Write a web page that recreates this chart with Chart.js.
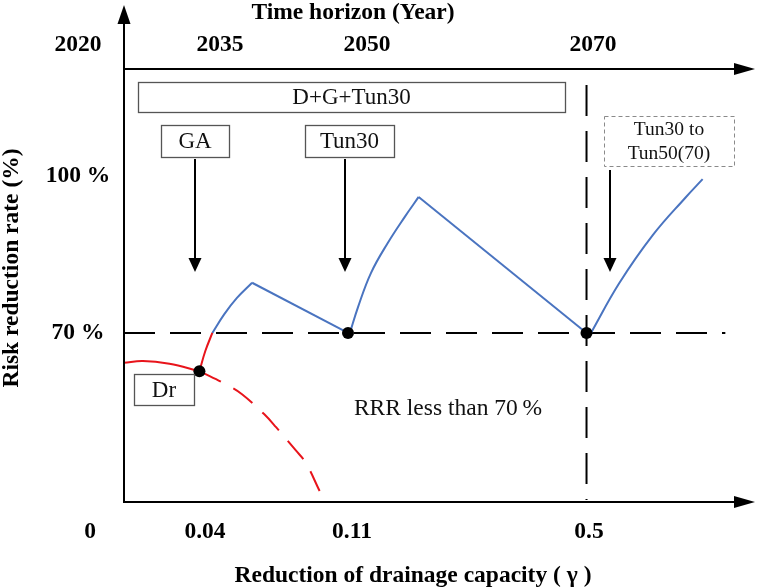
<!DOCTYPE html>
<html>
<head>
<meta charset="utf-8">
<script src="https://cdn.jsdelivr.net/npm/chart.js@4"></script>
<style>
html,body{margin:0;padding:0;background:#fff;overflow:hidden;}
#wrap{position:relative;width:761px;height:588px;}
</style>
</head>
<body>
<div id="wrap"><canvas id="c"></canvas></div>
<script>
// ---- data (schematic units: x = position along γ axis 0..100, y = risk reduction rate %) ----
const gammaLabels = ['0', '0.04', '0.11', '0.5'];
const yearLabels = ['2020', '2035', '2050', '2070'];
const rateLabels = ['100 %', '70 %'];
const rateTickValues = [100, 70];
const threshold = 70;

const redBaseX = [0, 3.0, 7.2, 11.95];
const redBaseY = [64.3, 64.65, 64.1, 62.7];
const redDashX = [11.95, 16.35, 18.7, 22.2, 24.1, 27.2, 28.8, 31.0];
const redDashY = [62.7, 60.06, 58.3, 54.5, 52.0, 47.6, 45.2, 39.8];
const redRiseX = [11.95, 12.9, 14.0];
const redRiseY = [62.7, 66.6, 70];

const blueRise1X = [14.0, 15.9, 17.9, 20.3];
const blueRise1Y = [70, 73.6, 76.7, 79.6];
const blueFall1X = [20.3, 35.5];
const blueFall1Y = [79.6, 70];
const blueRise2X = [35.8, 37.1, 39.15, 41.8, 44.5, 46.7];
const blueRise2Y = [70, 75.0, 81.5, 87.2, 92.2, 96.0];
const blueFall2X = [46.7, 73.3];
const blueFall2Y = [96.0, 70];
const blueRise3X = [74.0, 78.5, 83.8, 89.0, 91.7];
const blueRise3Y = [70, 79.55, 88.7, 95.9, 99.4];

const dotX = [11.95, 35.5, 73.3];
const dotY = [62.7, 70, 70];

const pts = (xs, ys) => xs.map((x, i) => ({x: x, y: ys[i]}));

const RED = '#e8141b';
const BLUE = '#4a74c0';
const SERIF = "'Liberation Serif', 'Times New Roman', serif";

function ds(xs, ys, color, opts) {
  return Object.assign({
    data: pts(xs, ys), borderColor: color, borderWidth: 2, pointRadius: 0,
    fill: false, tension: 0, clip: false, order: 1
  }, opts || {});
}

const decor = {
  id: 'decor',
  beforeDatasetsDraw(chart) {
    const ctx = chart.ctx, ca = chart.chartArea, xs = chart.scales.x, ys = chart.scales.y;
    ctx.save();
    ctx.strokeStyle = '#000';
    ctx.lineWidth = 2;
    ctx.setLineDash([31, 15]);
    const y70 = ys.getPixelForValue(threshold);
    ctx.beginPath(); ctx.moveTo(ca.left, y70); ctx.lineTo(xs.getPixelForValue(95.3), y70); ctx.stroke();
    const xv = xs.getPixelForValue(dotX[2]);
    ctx.beginPath(); ctx.moveTo(xv, ys.getPixelForValue(117.4)); ctx.lineTo(xv, ca.bottom - 2); ctx.stroke();
    ctx.restore();
  },
  afterDraw(chart) {
    const ctx = chart.ctx, ca = chart.chartArea, xs = chart.scales.x, ys = chart.scales.y;
    ctx.save();
    // axes
    ctx.strokeStyle = '#000'; ctx.fillStyle = '#000'; ctx.lineWidth = 2; ctx.setLineDash([]);
    ctx.beginPath(); ctx.moveTo(ca.left, ca.bottom + 1); ctx.lineTo(ca.left, 20); ctx.stroke();
    ctx.beginPath(); ctx.moveTo(ca.left, 5); ctx.lineTo(ca.left - 6.5, 24); ctx.lineTo(ca.left + 6.5, 24); ctx.closePath(); ctx.fill();
    [ca.top, ca.bottom].forEach(yy => {
      ctx.beginPath(); ctx.moveTo(ca.left, yy); ctx.lineTo(ca.right - 18, yy); ctx.stroke();
      ctx.beginPath(); ctx.moveTo(ca.right, yy); ctx.lineTo(ca.right - 21, yy - 6); ctx.lineTo(ca.right - 21, yy + 6); ctx.closePath(); ctx.fill();
    });
    // bold axis labels
    ctx.textAlign = 'center'; ctx.textBaseline = 'middle';
    ctx.font = 'bold 23.5px ' + SERIF;
    ctx.fillText('Time horizon (Year)', 353, 13);
    const yearPx = [78, 220, 367, 593];
    yearLabels.forEach((t, i) => ctx.fillText(t, yearPx[i], 45));
    const gammaPx = [90, 205, 352, 589];
    gammaLabels.forEach((t, i) => ctx.fillText(t, gammaPx[i], 532));
    ctx.fillText('Reduction of drainage capacity ( \u03b3 )', 413, 576);
    rateLabels.forEach((t, i) => ctx.fillText(t, 78, ys.getPixelForValue(rateTickValues[i])));
    ctx.save();
    ctx.translate(12, 268); ctx.rotate(-Math.PI / 2);
    ctx.fillText('Risk reduction rate (%)', 0, 0);
    ctx.restore();
    // boxes
    function box(x1, y1, x2, y2, lines, size, dashed) {
      ctx.save();
      ctx.lineWidth = dashed ? 1 : 1.3;
      ctx.strokeStyle = dashed ? '#8a8a8a' : '#555';
      ctx.setLineDash(dashed ? [4, 3] : []);
      ctx.fillStyle = '#fff';
      ctx.fillRect(x1, y1, x2 - x1, y2 - y1);
      ctx.strokeRect(x1 + 0.5, y1 + 0.5, x2 - x1, y2 - y1);
      ctx.fillStyle = '#111';
      ctx.font = size + 'px ' + SERIF;
      ctx.textAlign = 'center'; ctx.textBaseline = 'middle';
      const cx = (x1 + x2) / 2, cy = (y1 + y2) / 2, lh = size * 1.2;
      lines.forEach((l, i) => ctx.fillText(l, cx, cy + (i - (lines.length - 1) / 2) * lh + 1));
      ctx.restore();
    }
    box(138, 82, 565, 112, ['D+G+Tun30'], 23);
    box(161, 125, 229, 157, ['GA'], 23);
    box(305, 125, 394, 157, ['Tun30'], 23);
    box(134, 374, 194, 405, ['Dr'], 23);
    box(604, 116, 734, 166, ['Tun30 to', 'Tun50(70)'], 19.5, true);
    // arrows
    function arrow(x, y1, y2) {
      ctx.save();
      ctx.strokeStyle = '#000'; ctx.fillStyle = '#000'; ctx.lineWidth = 2; ctx.setLineDash([]);
      ctx.beginPath(); ctx.moveTo(x, y1); ctx.lineTo(x, y2 - 10); ctx.stroke();
      ctx.beginPath(); ctx.moveTo(x, y2); ctx.lineTo(x - 6.5, y2 - 14); ctx.lineTo(x + 6.5, y2 - 14); ctx.closePath(); ctx.fill();
      ctx.restore();
    }
    arrow(195, 159, 272);
    arrow(345, 159, 272);
    arrow(610, 170, 272);
    // region text
    ctx.fillStyle = '#111';
    ctx.font = '23.5px ' + SERIF;
    ctx.textAlign = 'center';
    ctx.fillText('RRR less than 70\u2009%', 448, 409);
    ctx.restore();
  }
};

new Chart(document.getElementById('c'), {
  type: 'line',
  data: {
    datasets: [
      ds(redBaseX, redBaseY, RED, {tension: 0.4}),
      ds(redDashX, redDashY, RED, {tension: 0.4, borderDash: [24, 14]}),
      ds(redRiseX, redRiseY, RED, {tension: 0.4}),
      ds(blueRise1X, blueRise1Y, BLUE, {tension: 0.4}),
      ds(blueFall1X, blueFall1Y, BLUE),
      ds(blueRise2X, blueRise2Y, BLUE, {tension: 0.4}),
      ds(blueFall2X, blueFall2Y, BLUE),
      ds(blueRise3X, blueRise3Y, BLUE, {tension: 0.4}),
      {data: pts(dotX, dotY), showLine: false, pointRadius: 6, pointBackgroundColor: '#000',
       pointBorderColor: '#000', pointBorderWidth: 0, clip: false, order: 0}
    ]
  },
  options: {
    responsive: true,
    maintainAspectRatio: false,
    animation: false,
    events: [],
    layout: {padding: {left: 124, right: 1, top: 69, bottom: 86}},
    plugins: {legend: {display: false}, tooltip: {enabled: false}},
    scales: {
      x: {type: 'linear', min: 0, max: 100, display: false},
      y: {type: 'linear', min: 37.7, max: 120.45, display: false}
    }
  },
  plugins: [decor]
});
</script>
</body>
</html>
